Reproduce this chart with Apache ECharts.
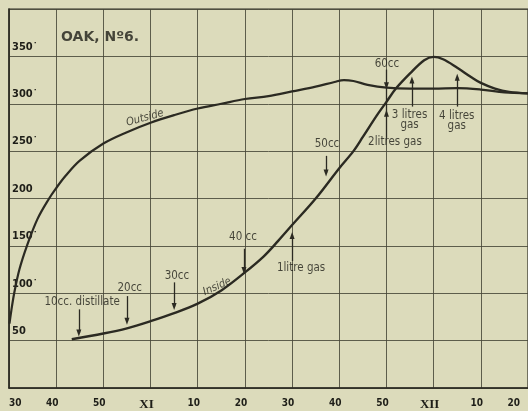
<!DOCTYPE html>
<html>
<head>
<meta charset="utf-8">
<script src="https://cdn.jsdelivr.net/npm/echarts@6/dist/echarts.min.js"></script>
<style>
  html, body { margin: 0; padding: 0; background: #dcdbbb; }
  #chart { width: 528px; height: 411px; }
</style>
</head>
<body>
<div id="chart"></div>
<script>
// Temperature curves for the oak distillation, No. 6
// x: time in minutes (XI and XII mark the hours), y: degrees

const xTickLabels = {30:'30', 40:'40', 50:'50', 60:'XI', 70:'10', 80:'20',
                     90:'30', 100:'40', 110:'50', 120:'XII', 130:'10', 140:'20'};
const yTickLabels = {50:'50', 100:'100˙', 150:'150˙', 200:'200', 250:'250˙', 300:'300˙', 350:'350˙'};

// Outside (retort wall) temperature
const outsideX = [30.1, 30.5, 31.1, 32.2, 33.8, 36, 38.5, 40, 42, 45, 50, 55, 60, 65, 70, 75, 80, 85, 90, 95, 99, 101, 103, 106, 110, 115, 120, 125, 130, 135, 140];
const outsideY = [68, 82, 100, 125, 150, 178, 200, 211, 224, 240, 258, 270, 280, 288, 295, 300, 305, 308, 313, 318, 323, 325, 324, 320, 317, 316, 316, 316.5, 315, 312, 311];

// Inside temperature
const insideX = [43.3, 50, 55, 60, 65, 70, 75, 80, 84, 87, 90, 95, 100, 103, 105, 108, 110, 112, 115, 118, 120, 122, 125, 128, 130, 133, 136, 140];
const insideY = [51.5, 57.5, 63, 70.5, 79, 89, 103, 122, 139, 155, 172, 200, 232, 250, 265, 288, 302, 316, 332, 346, 349.5, 347, 338, 328, 322, 316, 312.5, 311];

// Arrows: x position, start value, end value (head at end)
const arrowX    = [44.8, 55, 65, 79.8, 90, 97.2, 110, 110, 115.4, 125];
const arrowFrom = [83, 97, 111.5, 147, 134, 245, 336, 264, 297, 297];
const arrowTo   = [58, 70.5, 86, 124, 161, 227, 319, 290, 325, 328];

// Plain connector between the 60cc and 2 litres arrows
const connectorX = 110, connectorFrom = 319, connectorTo = 290;

// Notes written on the sheet
const noteText = ['10cc. distillate', '20cc', '30cc', '40 cc', '1litre gas', '50cc', '60cc', '2litres gas', '3 litres\ngas', '4 litres\ngas'];
const noteX    = [45.5, 55.6, 65.6, 79.6, 91.9, 97.4, 110.1, 111.8, 114.9, 124.9];
const noteY    = [90.5, 105, 118, 159, 127, 258, 342, 260, 283, 282];

const curveNames = ['Outside', 'Inside'];
const curveNameX = [58.8, 74.1];
const curveNameY = [285, 107];
const curveNameRot = [15, 24];

const titleText = 'OAK, Nº6.';
const titleX = 49.3, titleY = 370.5;

const ink = '#2b2a22';
const gridInk = 'rgba(70,70,55,0.85)';
const handFont = "'Liberation Sans Narrow', 'DejaVu Sans Condensed', 'Liberation Sans', sans-serif";

const zip = (xs, ys) => xs.map((x, i) => [x, ys[i]]);

const arrowLines = arrowX.map((x, i) => [
  { coord: [x, arrowFrom[i]], symbol: 'none' },
  { coord: [x, arrowTo[i]], symbol: 'triangle', symbolSize: [5, 7] }
]);
arrowLines.push([
  { coord: [connectorX, connectorFrom], symbol: 'none' },
  { coord: [connectorX, connectorTo], symbol: 'none' }
]);

const noteData = noteText.map((t, i) => ({ value: [noteX[i], noteY[i]], name: t }));
const curveNameData = curveNames.map((t, i) => ({
  value: [curveNameX[i], curveNameY[i]], name: t,
  label: { rotate: curveNameRot[i] }
}));

const chart = echarts.init(document.getElementById('chart'), null, { renderer: 'canvas' });
chart.setOption({
  backgroundColor: '#dcdbbb',
  animation: false,
  grid: { left: 9, right: -1, top: 9, bottom: 22, show: true, borderColor: ink, borderWidth: 1.2 },
  xAxis: {
    type: 'value', min: 30, max: 140, interval: 10,
    axisLine: { show: true, lineStyle: { color: ink, width: 1.5 } },
    axisTick: { show: false },
    splitLine: { show: true, lineStyle: { color: gridInk, width: 1 } },
    axisLabel: {
      margin: 10, color: '#1e1e18', fontFamily: handFont, fontSize: 10, fontWeight: 'bold',
      padding: [0, 8, 0, 0],
      alignMinLabel: 'left', alignMaxLabel: 'right',
      formatter: v => {
        const t = xTickLabels[v] || '';
        return (t === 'XI' || t === 'XII') ? '{r|' + t + '}' : t;
      },
      rich: { r: { fontFamily: "'Liberation Serif', 'DejaVu Serif', serif", fontWeight: 'bold', fontSize: 13, color: '#1e1e18' } }
    }
  },
  yAxis: {
    type: 'value', min: 0, max: 400, interval: 50,
    axisLine: { show: true, lineStyle: { color: ink, width: 1.5 } },
    axisTick: { show: false },
    splitLine: { show: true, lineStyle: { color: gridInk, width: 1 } },
    axisLabel: {
      inside: true, margin: 3, color: '#1e1e18', fontFamily: handFont, fontSize: 11, fontWeight: 'bold',
      verticalAlign: 'bottom', padding: [0, 0, 4, 0],
      formatter: v => yTickLabels[v] || ''
    }
  },
  series: [
    {
      name: 'Outside', type: 'line', data: zip(outsideX, outsideY),
      smooth: 0.35, showSymbol: false, symbol: 'none',
      lineStyle: { color: ink, width: 2.2 }
    },
    {
      name: 'Inside', type: 'line', data: zip(insideX, insideY),
      smooth: 0.35, showSymbol: false, symbol: 'none',
      lineStyle: { color: ink, width: 2.4 },
      markLine: {
        silent: true, symbol: 'none',
        lineStyle: { color: ink, width: 1.3, type: 'solid' },
        label: { show: false },
        data: arrowLines
      }
    },
    {
      name: 'notes', type: 'scatter', data: noteData,
      symbolSize: 1, itemStyle: { color: 'transparent' }, silent: true,
      label: {
        show: true, position: 'inside', formatter: p => p.name,
        color: '#1e1e18', fontFamily: handFont, fontSize: 11.5, lineHeight: 10
      }
    },
    {
      name: 'curve names', type: 'scatter', data: curveNameData,
      symbolSize: 1, itemStyle: { color: 'transparent' }, silent: true,
      label: {
        show: true, position: 'inside', formatter: p => p.name,
        color: '#1e1e18', fontFamily: handFont, fontSize: 11, fontStyle: 'italic'
      }
    },
    {
      name: 'title', type: 'scatter', data: [{ value: [titleX, titleY], name: titleText }],
      symbolSize: 1, itemStyle: { color: 'transparent' }, silent: true,
      label: {
        show: true, position: 'inside', formatter: p => p.name,
        color: '#1e1e18', fontFamily: "'DejaVu Sans', sans-serif", fontSize: 14, fontWeight: 'bold'
      }
    }
  ]
});
</script>
</body>
</html>
